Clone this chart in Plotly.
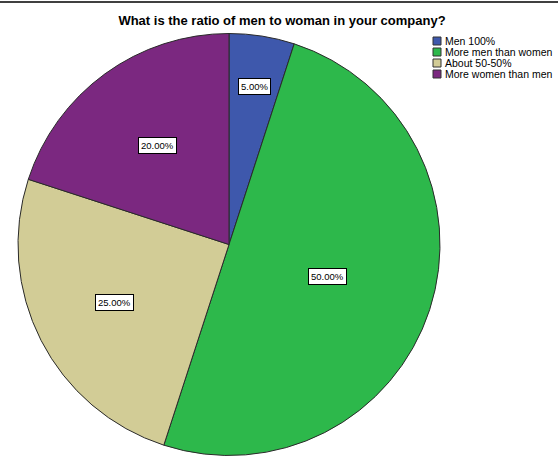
import math
import plotly.graph_objects as go

# Survey answers and their shares (percent)
categories = ["Men 100%", "More men than women", "About 50-50%", "More women than men"]
shares = [5.0, 50.0, 25.0, 20.0]
colors = ["#3E58AC", "#2DB84B", "#D2CC96", "#7B2880"]

# distance of each value box from the pie center, as a fraction of the radius
label_radius = [0.76, 0.49, 0.61, 0.58]

W, H = 558, 474
# pie placement in pixels (center and radius)
cx, cy, r = 229, 244.5, 211
dom_x = [(cx - r) / W, (cx + r) / W]
dom_y = [(H - cy - r) / H, (H - cy + r) / H]

fig = go.Figure(go.Pie(
    labels=categories,
    values=shares,
    sort=False,
    direction="clockwise",
    rotation=0,
    marker=dict(colors=colors, line=dict(color="#2a2a2a", width=1)),
    textinfo="none",
    hoverinfo="label+percent",
    domain=dict(x=dom_x, y=dom_y),
    showlegend=False,
))

# value labels placed along each slice's mid-angle
total = sum(shares)
start = 0.0
for v, frac in zip(shares, label_radius):
    mid = start + v / total * 360 / 2
    start += v / total * 360
    px = cx + math.sin(math.radians(mid)) * r * frac
    py = cy - math.cos(math.radians(mid)) * r * frac
    fig.add_annotation(
        x=px / W, y=1 - py / H, xref="paper", yref="paper",
        xanchor="center", yanchor="middle",
        text=f"{v:.2f}%", showarrow=False,
        font=dict(family="Liberation Sans, Arial", size=9.5, color="#000"),
        bgcolor="#ffffff", bordercolor="#000000", borderwidth=1, borderpad=2,
    )

# legend drawn as swatches + labels
lx, ly, step, sw = 433, 41, 11, 8
for i, (name, col) in enumerate(zip(categories, colors)):
    yc = ly + i * step
    fig.add_shape(type="rect", xref="paper", yref="paper",
                  x0=lx / W, x1=(lx + sw) / W,
                  y0=1 - (yc + sw / 2) / H, y1=1 - (yc - sw / 2) / H,
                  fillcolor=col, line=dict(color="#333", width=1))
    fig.add_annotation(x=(lx + sw + 2) / W, y=1 - yc / H, xref="paper", yref="paper",
                       text=name, showarrow=False, xanchor="left", yanchor="middle",
                       font=dict(family="Liberation Sans, Arial", size=10.5, color="#000"))

# top rule
fig.add_shape(type="line", xref="paper", yref="paper",
              x0=0, x1=1, y0=1 - 2 / H, y1=1 - 2 / H,
              line=dict(color="#000", width=1.5))

fig.update_layout(
    width=W, height=H,
    margin=dict(l=0, r=0, t=0, b=0),
    paper_bgcolor="#ffffff",
    title=dict(text="<b>What is the ratio of men to woman in your company?</b>",
               x=282 / W, xanchor="center", y=1 - 20 / H, yanchor="middle",
               font=dict(family="Liberation Sans, Arial", size=13, color="#000")),
    showlegend=False,
)

fig.write_html("out.html")
